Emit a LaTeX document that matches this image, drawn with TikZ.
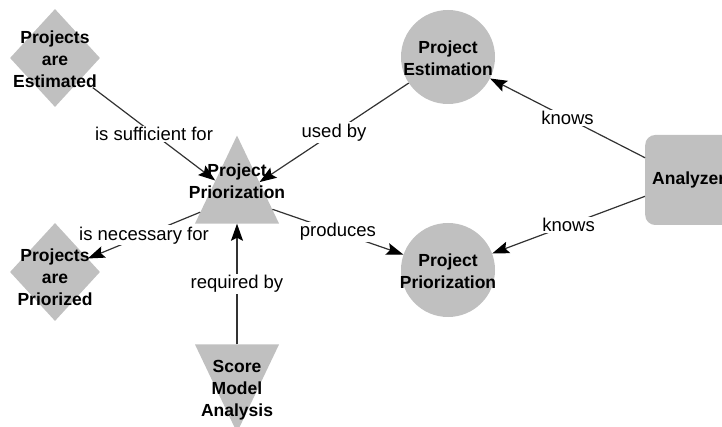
\documentclass[tikz,border=0pt]{standalone}
\usepackage{fontspec}
\setmainfont{Liberation Sans}
\usetikzlibrary{arrows.meta,shapes.geometric}
\definecolor{shapegray}{RGB}{192,192,192}
\definecolor{linegray}{RGB}{50,50,50}

\begin{document}
\begin{tikzpicture}[x=1pt,y=-1pt,
    every node/.style={inner sep=0pt},
    concept/.style={font=\bfseries\fontsize{17.5}{22}\selectfont,align=center},
    lbl/.style={font=\fontsize{18.5}{20}\selectfont,fill=white,inner sep=1.5pt},
    dia/.style={diamond,fill=shapegray,minimum width=90pt,minimum height=98pt},
    circ/.style={circle,fill=shapegray,minimum size=94pt},
    tri/.style={isosceles triangle,isosceles triangle stretches,fill=shapegray,
                minimum width=84pt,minimum height=88pt},
    edge/.style={draw=linegray,line width=1.2pt,
                 -{Stealth[length=17pt,width=12pt,inset=3pt,color=black]}}]
    \useasboundingbox (0,0) rectangle (722,427);
    \clip (0,0) rectangle (722,427);
    % shapes
    \node[dia] (est) at (55,58) {};
    \node[dia] (pri) at (55,272) {};
    \node[tri,shape border rotate=90,anchor=apex] (prio) at (237,135) {};
    \node[tri,shape border rotate=270,anchor=apex] (score) at (237,433) {};
    \node[circ] (pest) at (448,57) {};
    \node[circ] (pprio) at (448,270) {};
    \node[rectangle,rounded corners=10pt,
          fill=shapegray,minimum height=90pt,inner xsep=7pt,anchor=west,
          font=\bfseries\fontsize{17.5}{22}\selectfont] (ana) at (645,180) {Analyzer};
    % texts
    \node[concept] (estT) at (55,59) {Projects\\are\\Estimated};
    \node[concept] (priT) at (55,277) {Projects\\are\\Priorized};
    \node[concept] (prioT) at (237,181) {Project\\Priorization};
    \node[concept] (scoreT) at (237,390) {Score\\Model\\Analysis};
    \node[concept] (pestT) at (448,58) {Project\\Estimation};
    \node[concept] (pprioT) at (448,271) {Project\\Priorization};
    % connectors
    \draw[edge] (estT) -- node[lbl] {is sufficient for} (prio);
    \draw[edge] (pest) -- node[lbl] {used by} (prio);
    \draw[edge] (prio) -- node[lbl] {is necessary for} (pri);
    \draw[edge] (prio) -- node[lbl] {produces} (pprio);
    \draw[edge] (score) -- node[lbl] {required by} (prio);
    \draw[edge] (ana) -- node[lbl] {knows} (pest);
    \draw[edge] (ana) -- node[lbl] {knows} (pprio);
\end{tikzpicture}
\end{document}
